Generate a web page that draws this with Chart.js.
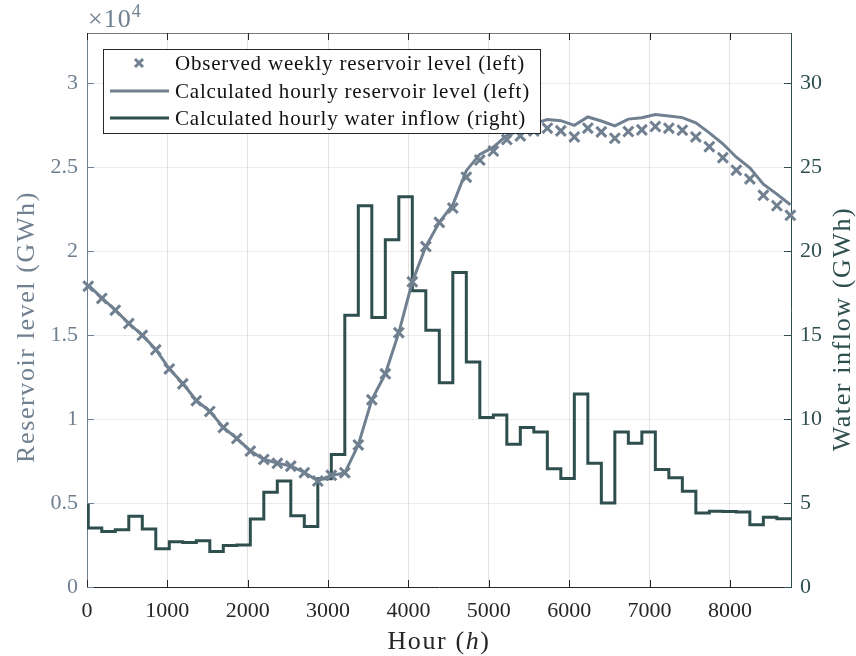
<!DOCTYPE html>
<html>
<head>
<meta charset="utf-8">
<title>Reservoir level and water inflow</title>
<script src="https://cdn.jsdelivr.net/npm/chart.js@4.4.1/dist/chart.umd.min.js"></script>
<style>
  html, body { margin: 0; padding: 0; background: #ffffff; }
  canvas { display: block; }
</style>
</head>
<body>
<canvas id="chart" width="856" height="656"></canvas>
<script>
// Weekly sample hours (start of each weekly period)
const weekHours = [16, 184, 352, 520, 688, 856, 1024, 1192, 1360, 1528, 1696, 1864, 2032,
  2200, 2368, 2536, 2704, 2872, 3040, 3208, 3376, 3544, 3712, 3880, 4048, 4216, 4384,
  4552, 4720, 4888, 5056, 5224, 5392, 5560, 5728, 5896, 6064, 6232, 6400, 6568, 6736,
  6904, 7072, 7240, 7408, 7576, 7744, 7912, 8080, 8248, 8416, 8584, 8752];

// Observed weekly reservoir level (GWh)
const observedLevel = [17920, 17190, 16490, 15690, 14990, 14130, 12990, 12100, 11100, 10460,
  9500, 8840, 8100, 7600, 7370, 7200, 6810, 6310, 6650, 6810, 8460, 11150, 12700, 15150,
  18180, 20280, 21720, 22570, 24410, 25430, 25970, 26650, 26870, 27170, 27330, 27170, 26810,
  27330, 27110, 26730, 27130, 27230, 27430, 27330, 27210, 26810, 26230, 25570, 24830, 24310,
  23330, 22710, 22140];

// Calculated hourly reservoir level (GWh), sampled weekly
const calculatedLevel = [17990, 17220, 16500, 15700, 15000, 14150, 13000, 12120, 11120, 10470,
  9510, 8850, 8110, 7610, 7380, 7210, 6820, 6330, 6640, 6790, 8470, 11150, 12700, 15150,
  18180, 20280, 21720, 22770, 24800, 25770, 26200, 26900, 27200, 27600, 27850, 27780, 27500,
  28000, 27760, 27470, 27870, 27950, 28150, 28060, 27960, 27650, 27050, 26400, 25600, 24970,
  24000, 23400, 22770];

// Step edges (hours) and weekly water inflow values (GWh)
const inflowEdges = [0, 16, 184, 352, 520, 688, 856, 1024, 1192, 1360, 1528, 1696, 1864, 2032,
  2200, 2368, 2536, 2704, 2872, 3040, 3208, 3376, 3544, 3712, 3880, 4048, 4216, 4384,
  4552, 4720, 4888, 5056, 5224, 5392, 5560, 5728, 5896, 6064, 6232, 6400, 6568, 6736,
  6904, 7072, 7240, 7408, 7576, 7744, 7912, 8080, 8248, 8416, 8584, 8760];
const inflowValues = [4.9, 3.51, 3.31, 3.41, 4.21, 3.45, 2.28, 2.69, 2.65, 2.75, 2.11, 2.47, 2.50,
  4.05, 5.65, 6.31, 4.25, 3.61, 6.45, 7.90, 16.19, 22.71, 16.05, 20.68, 23.25, 17.65, 15.29,
  12.16, 18.74, 13.40, 10.10, 10.24, 8.50, 9.50, 9.24, 7.05, 6.47, 11.50, 7.37, 5.01, 9.24,
  8.56, 9.24, 7.00, 6.51, 5.71, 4.41, 4.51, 4.50, 4.47, 3.71, 4.15, 4.07];

// Axis ticks
const hourTicks = [0, 1000, 2000, 3000, 4000, 5000, 6000, 7000, 8000];
const levelTicks = [0, 5000, 10000, 15000, 20000, 25000, 30000];
const inflowTicks = [0, 5, 10, 15, 20, 25, 30];

const SLATE = '#708090';
const DARK = '#2F4F4F';
const INK = '#262626';
const SERIF = "'Liberation Serif', 'Times New Roman', serif";

const observedPoints = weekHours.map((h, i) => ({ x: h, y: observedLevel[i] }));
const calculatedPoints = weekHours.map((h, i) => ({ x: h, y: calculatedLevel[i] }));
const inflowPoints = inflowValues.map((v, i) => ({ x: inflowEdges[i], y: v }));
inflowPoints.push({ x: inflowEdges[inflowEdges.length - 1], y: inflowValues[inflowValues.length - 1] });

function fixedTicks(list) {
  return function (scale) { scale.ticks = list.map(v => ({ value: v })); };
}

// Frame, inward tick marks, exponent, axis titles and legend box
const decorations = {
  id: 'decorations',
  afterDraw(chart) {
    const { ctx, chartArea: a, scales } = chart;
    const T = 7;
    const seg = (x1, y1, x2, y2, color) => {
      ctx.strokeStyle = color; ctx.lineWidth = 1;
      ctx.beginPath(); ctx.moveTo(x1, y1); ctx.lineTo(x2, y2); ctx.stroke();
    };
    ctx.save();
    // top border
    seg(a.left, Math.round(a.top) + 0.5, a.right, Math.round(a.top) + 0.5, '#7a7a7a');
    // x ticks (bottom and top, pointing inward)
    hourTicks.forEach(v => {
      const px = Math.round(scales.x.getPixelForValue(v)) + 0.5;
      seg(px, a.bottom, px, a.bottom - T, INK);
      seg(px, a.top, px, a.top + T, INK);
    });
    levelTicks.forEach(v => {
      const py = Math.round(scales.yL.getPixelForValue(v)) + 0.5;
      seg(a.left, py, a.left + T, py, SLATE);
    });
    inflowTicks.forEach(v => {
      const py = Math.round(scales.yR.getPixelForValue(v)) + 0.5;
      seg(a.right, py, a.right - T, py, DARK);
    });

    // exponent of the left axis
    ctx.fillStyle = SLATE;
    ctx.textBaseline = 'alphabetic';
    ctx.textAlign = 'left';
    ctx.letterSpacing = '1px';
    ctx.font = '26px ' + SERIF;
    ctx.fillText('\u00d710', 88, 27);
    const w10 = ctx.measureText('\u00d710').width;
    ctx.letterSpacing = '0px';
    ctx.font = '18px ' + SERIF;
    ctx.fillText('4', 88 + w10, 17);

    // axis titles
    ctx.letterSpacing = '1.6px';
    ctx.font = '26px ' + SERIF;
    ctx.textAlign = 'center';
    ctx.textBaseline = 'middle';
    ctx.save();
    ctx.translate(27, 327);
    ctx.rotate(-Math.PI / 2);
    ctx.fillStyle = SLATE;
    ctx.fillText('Reservoir level (GWh)', 0, 0);
    ctx.restore();
    ctx.save();
    ctx.translate(843, 329);
    ctx.rotate(-Math.PI / 2);
    ctx.fillStyle = DARK;
    ctx.fillText('Water inflow (GWh)', 0, 0);
    ctx.restore();

    // "Hour (h)" with italic h
    const parts = [['Hour (', '26px ' + SERIF], ['h', 'italic 26px ' + SERIF], [')', '26px ' + SERIF]];
    let total = 0;
    parts.forEach(p => { ctx.font = p[1]; total += ctx.measureText(p[0]).width; });
    let x = (a.left + a.right) / 2 - total / 2;
    ctx.textAlign = 'left';
    ctx.textBaseline = 'alphabetic';
    ctx.fillStyle = INK;
    parts.forEach(p => { ctx.font = p[1]; ctx.fillText(p[0], x, 649); x += ctx.measureText(p[0]).width; });

    // legend box
    const bx = 103.5, by = 49.5, bw = 437, bh = 84;
    ctx.fillStyle = '#ffffff';
    ctx.fillRect(bx, by, bw, bh);
    ctx.strokeStyle = INK; ctx.lineWidth = 1;
    ctx.strokeRect(bx, by, bw, bh);
    const rows = [63, 91, 118];
    const ds = chart.data.datasets;
    // row 1: cross marker
    ctx.strokeStyle = SLATE; ctx.lineWidth = 3; ctx.lineCap = 'butt';
    const mx = 139, my = rows[0], r = 4;
    ctx.beginPath();
    ctx.moveTo(mx - r, my - r); ctx.lineTo(mx + r, my + r);
    ctx.moveTo(mx - r, my + r); ctx.lineTo(mx + r, my - r);
    ctx.stroke();
    // rows 2 and 3: line samples
    [[rows[1], SLATE], [rows[2], DARK]].forEach(([yy, c]) => {
      ctx.strokeStyle = c; ctx.lineWidth = 3;
      ctx.beginPath(); ctx.moveTo(110, yy); ctx.lineTo(169, yy); ctx.stroke();
    });
    ctx.letterSpacing = '0.8px';
    ctx.font = '21px ' + SERIF;
    ctx.fillStyle = '#111111';
    ctx.textBaseline = 'middle';
    ctx.textAlign = 'left';
    rows.forEach((yy, i) => ctx.fillText(ds[i].label, 175, yy + 1));
    ctx.letterSpacing = '0px';
    ctx.restore();
  }
};

new Chart(document.getElementById('chart'), {
  type: 'line',
  data: {
    datasets: [
      {
        label: 'Observed weekly reservoir level (left)',
        data: observedPoints,
        yAxisID: 'yL',
        showLine: false,
        pointStyle: 'crossRot',
        pointRadius: 7,
        pointBorderWidth: 3,
        borderColor: SLATE,
        backgroundColor: SLATE,
        clip: false,
        order: 0
      },
      {
        label: 'Calculated hourly reservoir level (left)',
        data: calculatedPoints,
        yAxisID: 'yL',
        borderColor: SLATE,
        borderWidth: 3,
        pointRadius: 0,
        tension: 0,
        order: 1
      },
      {
        label: 'Calculated hourly water inflow (right)',
        data: inflowPoints,
        yAxisID: 'yR',
        borderColor: DARK,
        borderWidth: 3,
        pointRadius: 0,
        stepped: 'before',
        order: 2
      }
    ]
  },
  options: {
    responsive: false,
    animation: false,
    layout: { padding: { top: 33, left: 0, right: 0, bottom: 0 } },
    plugins: { legend: { display: false }, tooltip: { enabled: false } },
    scales: {
      x: {
        type: 'linear',
        min: 0,
        max: 8760,
        afterFit(s) { s.height = 69; },
        afterBuildTicks: fixedTicks(hourTicks),
        grid: { color: 'rgba(0,0,0,0.11)', drawTicks: false },
        border: { color: INK, width: 1 },
        ticks: { color: INK, font: { family: SERIF, size: 22 }, padding: 11, maxRotation: 0, autoSkip: false, callback: v => String(v) }
      },
      yL: {
        type: 'linear',
        position: 'left',
        min: 0,
        max: 33000,
        afterFit(s) { s.width = 87; },
        afterBuildTicks: fixedTicks(levelTicks),
        grid: { color: 'rgba(0,0,0,0.08)', drawTicks: false },
        border: { color: SLATE, width: 1 },
        ticks: { color: SLATE, font: { family: SERIF, size: 22 }, padding: 9, callback: v => String(v / 10000) }
      },
      yR: {
        type: 'linear',
        position: 'right',
        min: 0,
        max: 33,
        afterFit(s) { s.width = 65; },
        afterBuildTicks: fixedTicks(inflowTicks),
        grid: { display: false, drawTicks: false },
        border: { color: DARK, width: 1 },
        ticks: { color: DARK, font: { family: SERIF, size: 22 }, padding: 9, callback: v => String(v) }
      }
    }
  },
  plugins: [decorations]
});
</script>
</body>
</html>
